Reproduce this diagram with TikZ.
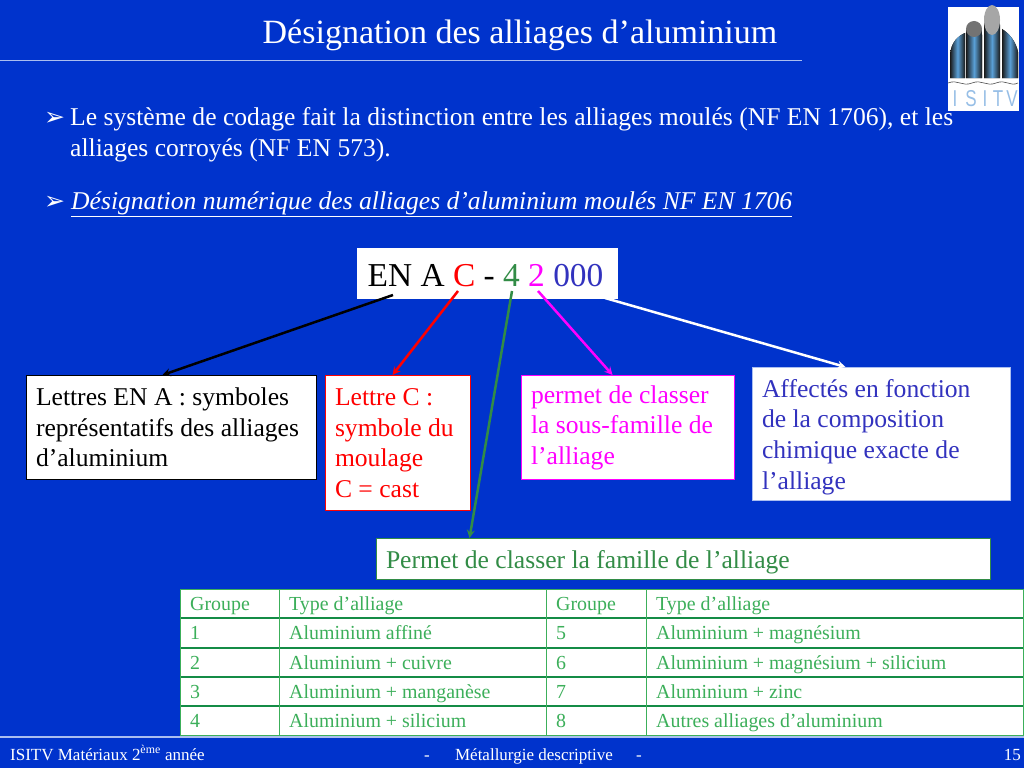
\documentclass[tikz,border=0pt]{standalone}
\usepackage{fontspec}
\setmainfont{Liberation Serif}
\newfontfamily\symbfont{DejaVu Sans}
\newfontfamily\logofont{Liberation Sans}
\usetikzlibrary{arrows,calc,positioning}
\definecolor{slideblue}{RGB}{0,51,204}
\definecolor{paleline}{RGB}{170,190,240}
\definecolor{tabgreen}{RGB}{60,175,90}
\definecolor{darkgreen}{RGB}{20,140,70}
\definecolor{lettergreen}{RGB}{50,140,70}
\definecolor{figblue}{RGB}{50,50,190}
\definecolor{logoblue}{RGB}{150,190,230}
\definecolor{tubeblue}{RGB}{90,160,215}
\definecolor{fuchsia}{RGB}{255,0,255}
\definecolor{pured}{RGB}{255,0,0}
\newcommand{\bodyfont}{\fontsize{25.6}{30.6}\selectfont}
\newcommand{\tabfont}{\fontsize{19.9}{22}\selectfont}
\newcommand{\footfont}{\fontsize{17}{19}\selectfont}
\tikzset{
    txtline/.style={anchor=base west,inner sep=0pt,text=white,font=\bodyfont},
    infobox/.style={draw,fill=white,line width=1pt,anchor=north west,inner sep=0pt,
        align=flush left,font=\bodyfont},
    flecheen/.style={->,>=stealth,line width=2.5pt},
    cellule/.style={anchor=base west,inner sep=0pt,text=tabgreen,font=\tabfont},
    piedtxt/.style={inner sep=0pt,text=white,font=\footfont},
    tube/.style={left color=black!90,right color=black!90,middle color=tubeblue}
}

\begin{document}
\begin{tikzpicture}[x=1pt,y=-1pt]
    \useasboundingbox (0,0) rectangle (1024,768);
    \fill[slideblue] (0,0) rectangle (1024,768);

    % Draw title and rules.
    \node[inner sep=0pt,text=white,font=\fontsize{34}{38}\selectfont,anchor=base] (titre) at (520,44)
        {Désignation des alliages d’aluminium};
    \draw[paleline,line width=1pt] (0,60) -- (802,60);
    \draw[paleline,line width=1.5pt] (0,737) -- (1024,737);

    % Draw logo.
    \fill[white] (948,7) rectangle (1019,111);
    \fill[tube] (950,78) -- (950,55) .. controls (951,42) and (958,36) .. (965,33) -- (965,78) -- cycle;
    \fill[tube] (966,78) -- (966,35) .. controls (966,17) and (982,17) .. (982,35) -- (982,78) -- cycle;
    \fill[black!55] (974,29) ellipse (8 and 8);
    \fill[tube] (984,78) -- (984,25) .. controls (984,1) and (1000,1) .. (1000,25) -- (1000,78) -- cycle;
    \fill[black!35] (992,20) ellipse (8 and 15);
    \fill[tube] (1002,78) -- (1002,29) .. controls (1010,34) and (1016,42) .. (1018,52) -- (1018,78) -- cycle;
    \draw[black!70,line width=.6pt] (948,83) .. controls (958,79) and (962,87) .. (972,83)
        .. controls (982,79) and (986,87) .. (996,83) .. controls (1006,79) and (1010,87) .. (1018,83);
    \foreach \L/\X in {I/955,S/971,I/985,T/998,V/1012}
        \node[text=logoblue,inner sep=0pt,yscale=1.35,font=\logofont\fontsize{17}{20}\selectfont] (logo\X) at (\X,99) {\L};

    % Draw bullet text.
    \node[txtline,font=\symbfont\fontsize{25}{28}\selectfont] (pucea) at (44,125) {➢};
    \node[txtline] (lignea) at (70,125)
        {Le système de codage fait la distinction entre les alliages moulés (NF EN 1706), et les};
    \node[txtline] (ligneb) at (70,156) {alliages corroyés (NF EN 573).};
    \node[txtline,font=\symbfont\fontsize{25}{28}\selectfont] (puceb) at (44,209) {➢};
    \node[txtline] (lignec) at (71,209)
        {\underline{\textit{Désignation numérique des alliages d’aluminium moulés NF EN 1706}}};

    % Draw designation.
    \node[fill=white,minimum width=261,minimum height=51,inner sep=0pt,anchor=north west] (code) at (357,248) {};
    \node[anchor=base west,inner sep=0pt,font=\fontsize{33.4}{36}\selectfont] (codetxt) at (367.5,286)
        {EN A \textcolor{pured}{C} - \textcolor{lettergreen}{4} \textcolor{fuchsia}{2} \textcolor{figblue}{000}};

    % Draw boxes.
    \node[infobox,draw=black,text=black,minimum width=290,minimum height=104,text width=270,
        inner xsep=10pt] (boxen) at (25.5,375)
        {Lettres EN A : symboles\\représentatifs des alliages\\d’aluminium};
    \node[infobox,draw=pured,text=pured,minimum width=145,minimum height=135,text width=125,
        inner xsep=10pt] (boxc) at (324.5,375)
        {Lettre C :\\symbole du\\moulage\\C = cast};
    \node[infobox,draw=fuchsia,text=fuchsia,minimum width=213,minimum height=104,text width=193,
        inner xsep=10pt] (boxsous) at (520.5,375)
        {permet de classer\\la sous-famille de\\l’alliage};
    \node[infobox,draw=paleline,text=figblue,minimum width=258,minimum height=133,text width=238,
        inner xsep=10pt] (boxcompo) at (751.5,367)
        {\rule{0pt}{24pt}Affectés en fonction\\de la composition\\chimique exacte de\\l’alliage};
    \node[infobox,draw=lettergreen,text=lettergreen,minimum width=614,minimum height=41,text width=594,
        inner xsep=10pt] (boxfam) at (375.5,538)
        {\rule{0pt}{24pt}Permet de classer la famille de l’alliage};

    % Draw arrows.
    \coordinate (startA) at (393,295);
    \coordinate (startB) at (458,291);
    \coordinate (startC) at (512,291);
    \coordinate (startD) at (538,291);
    \coordinate (startE) at (605,298);
    \draw[flecheen,black] (startA) -- ($(boxen.north west)+(137,0)$);
    \draw[flecheen,pured] (startB) -- ($(boxc.north west)+(68,0)$);
    \draw[flecheen,lettergreen] (startC) -- ($(boxfam.north west)+(94,0)$);
    \draw[flecheen,fuchsia] (startD) -- ($(boxsous.north west)+(92,0)$);
    \draw[flecheen,white] (startE) -- ($(boxcompo.north west)+(94,0)$);

    % Draw table.
    \fill[white] (180,589) rectangle (1024,735);
    \foreach \Y in {618,648,677,706}
        \draw[darkgreen,line width=2pt] (180,\Y) -- (1024,\Y);
    \foreach \X in {180,279,546,646,1023.5}
        \draw[tabgreen,line width=1pt] (\X,589) -- (\X,735);
    \draw[tabgreen,line width=1pt] (180,589) -- (1024,589) (180,735) -- (1024,735);
    \foreach \N/\Y/\A/\B/\C/\D in {
        0/610/Groupe/Type d’alliage/Groupe/Type d’alliage,
        1/639/1/Aluminium affiné/5/Aluminium + magnésium,
        2/669/2/Aluminium + cuivre/6/Aluminium + magnésium + silicium,
        3/698/3/Aluminium + manganèse/7/Aluminium + zinc,
        4/727/4/Aluminium + silicium/8/Autres alliages d’aluminium}{
        \node[cellule] (cella\N) at (190,\Y) {\A};
        \node[cellule] (cellb\N) at (289,\Y) {\B};
        \node[cellule] (cellc\N) at (556,\Y) {\C};
        \node[cellule] (celld\N) at (656,\Y) {\D};
    }

    % Draw footer.
    \node[piedtxt,anchor=base west] (piedg) at (10,760)
        {ISITV Matériaux 2\textsuperscript{ème} année};
    \node[piedtxt,anchor=base] (piedm) at (427,760) {-};
    \node[piedtxt,anchor=base] (piedt) at (534,760) {Métallurgie descriptive};
    \node[piedtxt,anchor=base] (piedn) at (639,760) {-};
    \node[piedtxt,anchor=base east] (piedd) at (1021,760) {15};

\end{tikzpicture}
\end{document}
